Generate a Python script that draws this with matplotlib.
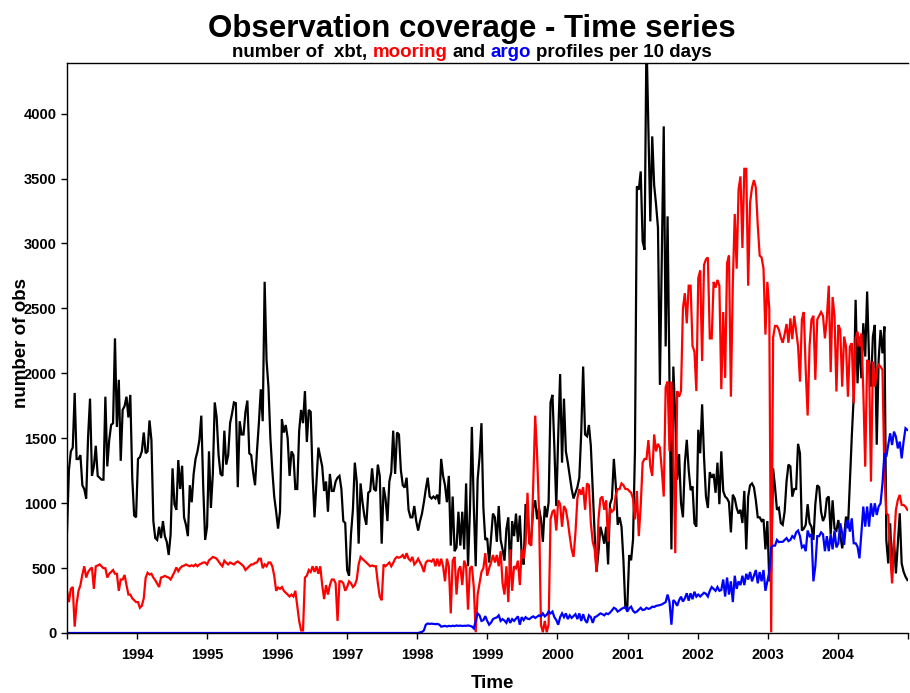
import matplotlib
matplotlib.use("Agg")
import matplotlib.pyplot as plt
import matplotlib.transforms as mtransforms
import pandas as pd

plt.rcParams['font.family'] = ['Liberation Sans', 'DejaVu Sans']

# ---------------- data: profiles per 10 days -------------
start_date = "1993-01-01"
step = "10D"

xbt = [
    # 1993
    775, 1254, 1399, 1428, 1849, 1340, 1340, 1370, 1138, 1108, 1036, 1515, 1805, 1210, 1283, 1442, 1210, 1196, 1181,
    1181, 1820, 1283, 1486, 1602, 1616, 2269, 1587, 1950, 1326, 1718, 1747, 1820, 1660, 1834, 1196, 905, 891,
    # 1994
    1340, 1355, 1399, 1544, 1384, 1399, 1637, 1486, 862, 731, 717, 818, 731, 862, 746, 702, 601, 760, 1268, 992,
    949, 1332, 1109, 1288, 891, 833, 746, 1138, 1007, 1225, 1341, 1399, 1486, 1674, 1123, 717,
    # 1995
    818, 1399, 963, 1225, 1776, 1660, 1370, 1225, 1210, 1558, 1297, 1370, 1616, 1689, 1776, 1770, 1123, 1631, 1529,
    1529, 1703, 1790, 1384, 1370, 1239, 1138, 1399, 1616, 1877, 1631, 2705, 2100, 1892, 1500, 1254, 1050, 934,
    # 1996
    804, 934, 1645, 1544, 1602, 1500, 1210, 1399, 1370, 1109, 1109, 1558, 1718, 1616, 1863, 1471, 1718, 1703, 1210,
    891, 1167, 1428, 1355, 1283, 1094, 1167, 934, 1225, 1094, 1094, 1167, 1196, 1210, 1109, 862, 847,
    # 1997
    485, 441, 760, 949, 1312, 1167, 688, 1152, 1007, 900, 833, 1080, 1094, 1268, 1109, 1094, 1297, 1210, 688, 1123,
    1036, 862, 1167, 1239, 1558, 1225, 1544, 1529, 1254, 1138, 1120, 1196, 949, 891, 891, 978, 862,
    # 1998
    789, 862, 920, 1007, 1109, 1196, 1051, 1036, 1051, 1036, 1065, 992, 1341, 1210, 1138, 1007, 1210, 673, 1051, 630,
    659, 934, 673, 934, 644, 1152, 514, 949, 1587, 978, 514, 1181, 1355, 1616, 963, 717,
    # 1999
    731, 543, 731, 920, 891, 702, 978, 717, 644, 557, 800, 891, 441, 862, 746, 920, 702, 905, 586, 528,
    992, 963, 688, 746, 963, 1022, 876, 963, 876, 702, 978, 891, 1007, 1776, 1834, 1428, 978,
    # 2000
    1515, 1994, 1312, 1805, 1399, 1312, 1210, 1109, 1036, 1080, 1123, 1196, 1544, 2052, 1529, 1515, 1602, 1442, 1094,
    760, 470, 630, 818, 760, 688, 818, 528, 992, 1036, 1341, 1138, 833, 891, 818, 557, 194,
    # 2001
    194, 600, 560, 720, 1400, 3440, 3414, 3555, 3016, 2952, 4600, 3900, 3170, 3825, 3450, 3300, 3121, 1911, 2900,
    3902, 2207, 3209, 1900, 644, 2052, 1660, 1181, 1378, 1000, 891, 1308, 1488, 1257, 1100, 1129, 845, 820,
    # 2002
    1565, 1384, 1761, 1354, 1051, 963, 1239, 1196, 1225, 1080, 1312, 992, 1399, 1094, 1051, 1036, 1007, 775, 1065,
    1036, 963, 920, 949, 847, 1094, 644, 1051, 1138, 1152, 1123, 1022, 891, 891, 862, 876, 644,
    # 2003
    862, 398, 485, 1268, 1123, 949, 963, 847, 833, 934, 1167, 1297, 1283, 1050, 1109, 1109, 1457, 1384, 789, 804,
    833, 992, 847, 818, 717, 992, 1138, 1123, 934, 862, 900, 1036, 1051, 760, 1022, 804, 789,
    # 2004
    870, 755, 652, 742, 897, 806, 1152, 1512, 1820, 2566, 1923, 2283, 1962, 2386, 2129, 2630, 2104, 1897, 2283,
    2373, 1450, 2104, 2334, 2154, 2360, 716, 536, 845, 459, 716, 459, 691, 922, 536, 472, 434, 408,
]

mooring = [
    # 1993
    325, 238, 340, 354, 49, 223, 325, 369, 450, 514, 427, 470, 490, 505, 340, 514, 520, 528, 514, 499,
    499, 427, 456, 470, 485, 456, 456, 325, 412, 412, 447, 369, 296, 296, 267, 252, 238,
    # 1994
    238, 194, 210, 267, 427, 464, 450, 456, 427, 406, 380, 354, 427, 432, 440, 432, 427, 412, 440, 470,
    505, 476, 500, 514, 519, 528, 520, 514, 522, 514, 528, 514, 528, 534, 543, 543,
    # 1995
    528, 560, 572, 586, 580, 572, 551, 530, 514, 557, 540, 528, 543, 535, 528, 543, 551, 540, 528, 514,
    485, 500, 514, 528, 528, 540, 543, 572, 572, 499, 528, 514, 543, 543, 514, 441, 325,
    # 1996
    350, 340, 354, 325, 310, 296, 281, 296, 281, 325, 209, 93, 20, 20, 427, 441, 485, 470, 514, 470,
    514, 456, 514, 369, 261, 369, 296, 369, 412, 412, 383, 93, 398, 398, 383, 325,
    # 1997
    354, 398, 383, 354, 369, 412, 528, 586, 570, 557, 543, 528, 514, 520, 514, 514, 383, 281, 252, 528,
    514, 528, 543, 514, 540, 572, 586, 580, 586, 601, 572, 615, 572, 557, 586, 528, 545,
    # 1998
    572, 543, 514, 470, 543, 557, 557, 550, 572, 514, 572, 514, 572, 514, 398, 572, 514, 151, 557, 586,
    296, 485, 514, 369, 557, 514, 180, 499, 514, 354, 6, 296, 383, 470, 499, 615,
    # 1999
    441, 499, 543, 601, 543, 601, 514, 630, 383, 296, 514, 238, 644, 325, 514, 499, 557, 369, 644, 572,
    688, 1080, 688, 673, 1152, 1674, 1370, 934, 64, 6, 93, 6, 64, 876, 934, 949, 789,
    # 2000
    1022, 992, 818, 978, 949, 862, 746, 644, 586, 775, 1036, 1109, 1065, 1123, 949, 1152, 1138, 847, 702, 644,
    470, 876, 1036, 1051, 949, 1022, 702, 963, 934, 949, 1065, 1109, 1109, 1152, 1138, 1109,
    # 2001
    1109, 1094, 1080, 1036, 876, 1094, 746, 978, 1312, 1341, 1341, 1486, 1283, 1210, 1529, 1399, 1457, 1428, 1254,
    1051, 1892, 1936, 1399, 1936, 1457, 615, 1863, 1820, 1863, 2501, 2617, 2385, 2675, 2675, 2211, 2167, 1863,
    # 2002
    2733, 2791, 2095, 2835, 2878, 2892, 2269, 2269, 2704, 2660, 2719, 2675, 1878, 2472, 1965, 2849, 2907, 1820,
    2690, 3227, 2806, 3416, 3517, 2965, 3575, 3575, 2675, 3314, 3430, 3488, 3430, 3140, 2907, 2892, 2806, 2298,
    # 2003
    2704, 2500, 6, 2277, 2365, 2365, 2336, 2277, 2235, 2300, 2380, 2235, 2423, 2263, 2443, 2327, 2211, 1936, 2414,
    2472, 2023, 1675, 2211, 2414, 2443, 1950, 2414, 2443, 2472, 2443, 2269, 2423, 2675, 2009, 2588, 2443, 1860,
    # 2004
    2373, 2334, 1897, 2283, 2206, 1820, 2206, 2232, 1769, 2270, 2321, 2206, 2308, 1872, 1281, 2104, 2078, 1166,
    2091, 1897, 2026, 2065, 2052, 2026, 1230, 922, 909, 626, 382, 691, 948, 1025, 1064, 986, 986, 973, 948,
]

argo = [
    # 1993
    0, 0, 0, 0, 0, 0, 0, 0, 0, 0, 0, 0, 0, 0, 0, 0, 0, 0, 0, 0, 0, 0, 0, 0, 0, 0, 0, 0, 0, 0, 0, 0, 0, 0, 0, 0, 0,
    # 1994
    0, 0, 0, 0, 0, 0, 0, 0, 0, 0, 0, 0, 0, 0, 0, 0, 0, 0, 0, 0, 0, 0, 0, 0, 0, 0, 0, 0, 0, 0, 0, 0, 0, 0, 0, 0,
    # 1995
    0, 0, 0, 0, 0, 0, 0, 0, 0, 0, 0, 0, 0, 0, 0, 0, 0, 0, 0, 0, 0, 0, 0, 0, 0, 0, 0, 0, 0, 0, 0, 0, 0, 0, 0, 0, 0,
    # 1996
    0, 0, 0, 0, 0, 0, 0, 0, 0, 0, 0, 0, 0, 0, 0, 0, 0, 0, 0, 0, 0, 0, 0, 0, 0, 0, 0, 0, 0, 0, 0, 0, 0, 0, 0, 0,
    # 1997
    0, 0, 0, 0, 0, 0, 0, 0, 0, 0, 0, 0, 0, 0, 0, 0, 0, 0, 0, 0, 0, 0, 0, 0, 0, 0, 0, 0, 0, 0, 0, 0, 0, 0, 0, 0, 0,
    # 1998
    0, 5, 8, 20, 64, 73, 70, 72, 70, 68, 70, 65, 49, 52, 55, 50, 55, 52, 56, 53,
    58, 55, 57, 54, 56, 55, 58, 55, 50, 35, 93, 151, 136, 93, 99, 130,
    # 1999
    93, 64, 80, 107, 115, 120, 136, 93, 107, 95, 78, 116, 78, 107, 93, 110, 128, 64, 122, 99,
    122, 110, 107, 120, 128, 116, 125, 136, 128, 151, 128, 140, 165, 151, 165, 122, 100,
    # 2000
    64, 122, 151, 122, 151, 107, 136, 116, 130, 145, 107, 151, 93, 145, 100, 78, 136, 122, 78, 122,
    128, 140, 151, 145, 136, 151, 145, 157, 174, 194, 186, 165, 174, 186, 194, 200,
    # 2001
    165, 190, 203, 171, 157, 165, 180, 194, 177, 180, 194, 186, 190, 203, 200, 209, 212, 215, 220, 229,
    238, 296, 238, 64, 254, 238, 209, 252, 280, 242, 267, 306, 249, 306, 260, 318, 280,
    # 2002
    296, 281, 296, 310, 302, 281, 325, 354, 340, 325, 354, 325, 331, 412, 281, 427, 296, 398, 238, 441,
    340, 398, 369, 441, 369, 456, 412, 470, 398, 441, 485, 383, 470, 398, 485, 325,
    # 2003
    398, 470, 659, 673, 673, 717, 700, 702, 702, 717, 731, 708, 717, 746, 731, 775, 789, 746, 659, 673,
    630, 789, 746, 760, 398, 514, 746, 746, 775, 760, 630, 746, 630, 760, 644, 789, 659,
    # 2004
    691, 845, 768, 679, 845, 870, 781, 883, 691, 691, 665, 575, 768, 974, 819, 974, 819, 999, 896, 999,
    909, 974, 999, 1152, 1384, 1358, 1448, 1538, 1448, 1551, 1512, 1422, 1474, 1345, 1474, 1577, 1564,
]

series = [("xbt", xbt, "black"), ("mooring", mooring, "red"), ("argo", argo, "blue")]
year_ticks = list(range(1993, 2006))
y_ticks = [0, 500, 1000, 1500, 2000, 2500, 3000, 3500, 4000]

title = "Observation coverage - Time series"
subtitle_parts = [("number of  xbt,", "black"), ("mooring", "red"), ("and", "black"),
                  ("argo", "blue"), ("profiles per 10 days", "black")]

# ---------------- figure ----------------
W, H = 910, 693
fig = plt.figure(figsize=(W / 100, H / 100), dpi=100)
ax = fig.add_axes([67 / W, 1 - 633 / H, (908 - 67) / W, (633 - 63) / H])

for name, vals, col in series:
    dates = pd.date_range(start_date, periods=len(vals), freq=step)
    ax.plot(dates, vals, color=col, lw=1.6, solid_joinstyle="miter")

ax.set_xlim(pd.Timestamp("1993-01-01"), pd.Timestamp("2005-01-01"))
ax.set_ylim(0, 4390)

ax.set_xticks([pd.Timestamp(f"{y}-01-01") for y in year_ticks])
ax.set_xticklabels(["" if y in (1993, 2005) else str(y) for y in year_ticks])
ax.set_yticks(y_ticks)
ax.set_yticklabels([str(v) for v in y_ticks])

for lab in ax.get_xticklabels() + ax.get_yticklabels():
    lab.set_fontweight("bold")
    lab.set_fontsize(10.5)
ax.tick_params(axis="both", direction="out", length=4.5, width=1.0, color="black")
ax.tick_params(axis="x", pad=6)
ax.tick_params(axis="y", pad=3)

ax.spines["right"].set_visible(False)
for s in ("left", "bottom", "top"):
    ax.spines[s].set_linewidth(1.0)

# axis labels
fig.text(492 / W, 1 - 684 / H, "Time", ha="center", va="center", fontsize=13.5, fontweight="bold")
fig.text(22 / W, 1 - 343 / H, "number of obs", ha="center", va="center", rotation=90,
         fontsize=13.5, fontweight="bold")

# title
fig.text(472 / W, 1 - 37 / H, title, ha="center", va="baseline", fontsize=22.5, fontweight="bold")

# coloured subtitle
renderer = fig.canvas.get_renderer()
ident = mtransforms.IdentityTransform()
sub_size = 13.5
texts = []
for s, c in subtitle_parts:
    t = fig.text(0, 0, s, color=c, fontsize=sub_size, fontweight="bold", ha="left",
                 va="baseline", transform=ident)
    texts.append(t)
probe1 = fig.text(0, 0, "x x", fontsize=sub_size, fontweight="bold", transform=ident)
probe2 = fig.text(0, 0, "xx", fontsize=sub_size, fontweight="bold", transform=ident)
space_w = probe1.get_window_extent(renderer).width - probe2.get_window_extent(renderer).width
probe1.remove()
probe2.remove()
widths = [t.get_window_extent(renderer).width for t in texts]
total = sum(widths) + space_w * (len(texts) - 1)
x = 472 - total / 2
y_base = H - 57
for t, w in zip(texts, widths):
    t.set_position((x, y_base))
    x += w + space_w

fig.savefig("out.png", dpi=100)
